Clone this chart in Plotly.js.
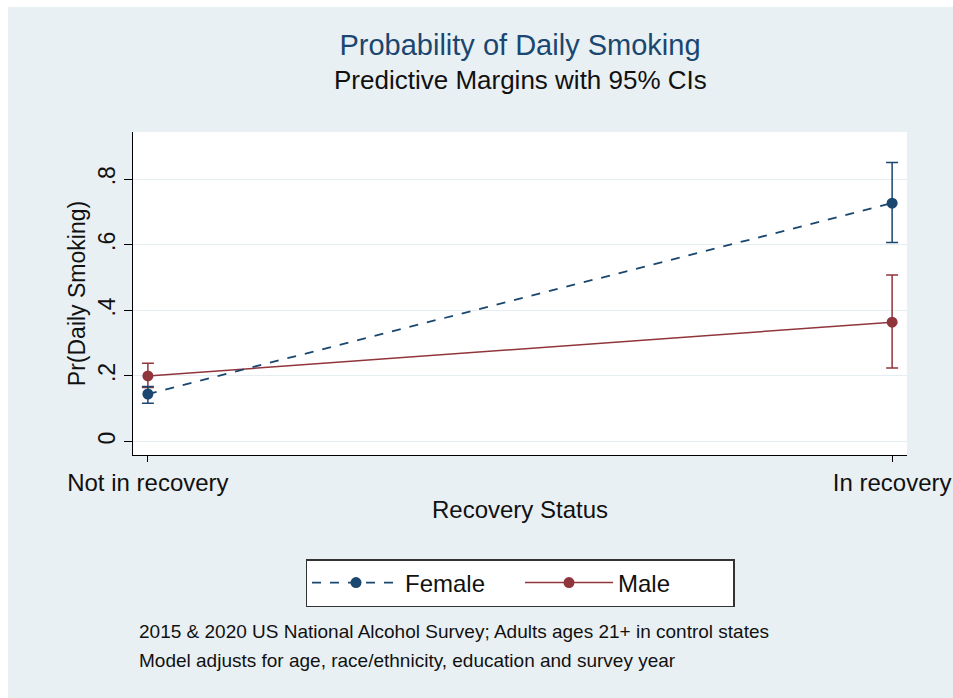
<!DOCTYPE html>
<html>
<head>
<meta charset="utf-8">
<script src="https://cdn.plot.ly/plotly-3.0.1.min.js"></script>
<style>
html,body{margin:0;padding:0;background:#ffffff;}
#chart{position:absolute;left:8px;top:7px;width:945px;height:691px;}
</style>
</head>
<body>
<div id="chart"></div>
<script>
var categories = ["Not in recovery", "In recovery"];
var femaleMargin = [0.145, 0.727];
var femaleLower = [0.117, 0.607];
var femaleUpper = [0.168, 0.851];
var maleMargin = [0.200, 0.364];
var maleLower = [0.165, 0.224];
var maleUpper = [0.239, 0.508];
var yTickVals = [0, 0.2, 0.4, 0.6, 0.8];
var yTickText = ["0", ".2", ".4", ".6", ".8"];
var notes = ["2015 & 2020 US National Alcohol Survey; Adults ages 21+ in control states",
             "Model adjusts for age, race/ethnicity, education and survey year"];

var navy = "#1a476f", maroon = "#90353b";
var FONT = "Liberation Sans, Arial, Helvetica, sans-serif";

function errs(m, lo, hi, color) {
  return {
    type: "data", symmetric: false,
    array: m.map(function (v, i) { return hi[i] - v; }),
    arrayminus: m.map(function (v, i) { return v - lo[i]; }),
    color: color, thickness: 1.5, width: 6
  };
}

var traces = [
  {x: categories, y: maleMargin, type: "scatter", mode: "lines+markers", name: "Male",
   line: {color: maroon, width: 1.5}, marker: {color: maroon, size: 11},
   error_y: errs(maleMargin, maleLower, maleUpper, maroon), legendrank: 2},
  {x: categories, y: femaleMargin, type: "scatter", mode: "lines+markers", name: "Female",
   line: {color: navy, width: 1.8, dash: "dash"}, marker: {color: navy, size: 11},
   error_y: errs(femaleMargin, femaleLower, femaleUpper, navy), legendrank: 1}
];

var layout = {
  width: 945, height: 691,
  paper_bgcolor: "#e9f0f3",
  plot_bgcolor: "#ffffff",
  margin: {l: 125, r: 46, t: 125, b: 243},
  font: {family: FONT, color: "#111111", size: 24},
  title: {text: "Probability of Daily Smoking", font: {family: FONT, size: 29, color: navy},
          x: 0.5, xref: "paper", y: 1 - 38 / 691, yref: "container", yanchor: "middle"},
  xaxis: {
    type: "category", range: [-0.02, 1.02],
    showline: true, linecolor: "#000000", linewidth: 1,
    ticks: "outside", ticklen: 6, tickcolor: "#000000",
    showgrid: false, zeroline: false,
    tickfont: {size: 24, family: FONT, color: "#111111"},
    title: {text: "Recovery Status", font: {size: 24, family: FONT, color: "#111111"}, standoff: 6}
  },
  yaxis: {
    range: [-0.041, 0.944],
    tickvals: yTickVals, ticktext: yTickText, tickangle: -90,
    showline: true, linecolor: "#000000", linewidth: 1,
    ticks: "outside", ticklen: 8, tickcolor: "#000000",
    showgrid: true, gridcolor: "#e6eef1", gridwidth: 1, zeroline: false,
    tickfont: {size: 23, family: FONT, color: "#111111"},
    title: {text: "Pr(Daily Smoking)", font: {size: 23, family: FONT, color: "#111111"}, standoff: 1}
  },
  legend: {
    orientation: "h", x: 0.5, xanchor: "center", y: -0.322, yanchor: "top",
    bgcolor: "#ffffff", bordercolor: "#333333", borderwidth: 1.5,
    font: {size: 24, family: FONT, color: "#111111"},
    itemwidth: 88, entrywidth: 110, traceorder: "normal"
  },
  annotations: [
    {text: "Predictive Margins with 95% CIs", xref: "paper", yref: "paper", x: 0.5, y: 1.161,
     xanchor: "center", yanchor: "middle", showarrow: false, font: {size: 26, family: FONT, color: "#111111"}},
    {text: notes[0], xref: "paper", yref: "paper", x: 0.005, y: -0.545, xanchor: "left", yanchor: "middle",
     showarrow: false, font: {size: 19, family: FONT, color: "#111111"}},
    {text: notes[1], xref: "paper", yref: "paper", x: 0.005, y: -0.635, xanchor: "left", yanchor: "middle",
     showarrow: false, font: {size: 19, family: FONT, color: "#111111"}}
  ]
};

Plotly.newPlot("chart", traces, layout, {displayModeBar: false, staticPlot: true});
</script>
</body>
</html>
